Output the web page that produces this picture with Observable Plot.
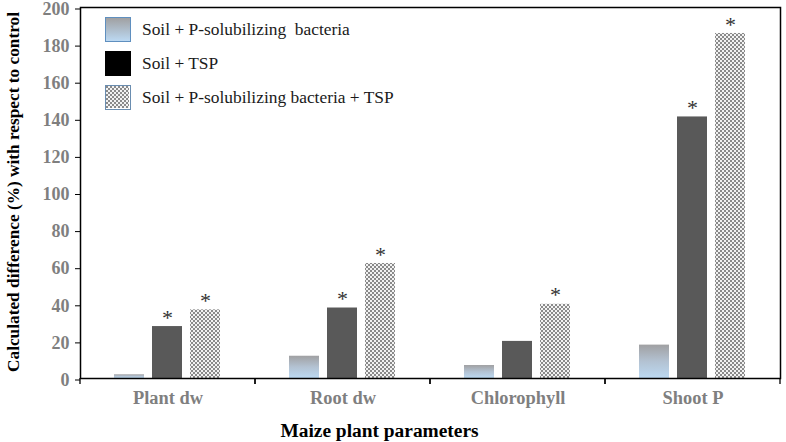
<!DOCTYPE html>
<html><head><meta charset="utf-8">
<script src="https://cdn.jsdelivr.net/npm/d3@7"></script>
<script src="https://cdn.jsdelivr.net/npm/@observablehq/plot@0.6"></script>
<style>
body{margin:0;background:#fff}
#wrap{position:relative;width:786px;height:442px;font-family:"Liberation Serif","Times New Roman",serif}
#legend{position:absolute;left:105px;top:17px}
.row{display:flex;align-items:center;height:25px;margin-bottom:9px}
.sw{width:26px;height:25px;box-sizing:border-box;margin-right:11px}
.lt{font-size:17.4px;color:#1a1a1a;white-space:pre;font-family:"Liberation Serif","Times New Roman",serif}
</style>
</head><body>
<svg width="0" height="0" style="position:absolute">
  <defs>
    <linearGradient id="gradPsb" x1="0" y1="0" x2="0" y2="1">
      <stop offset="0" stop-color="#a0a0a2"/>
      <stop offset="0.5" stop-color="#b3c2d2"/>
      <stop offset="1" stop-color="#bcd9f2"/>
    </linearGradient>
    <pattern id="checker" width="4" height="4" patternUnits="userSpaceOnUse">
      <rect width="4" height="4" fill="#f2f2f2"/>
      <rect width="2" height="2" fill="#8a8a8a"/>
      <rect x="2" y="2" width="2" height="2" fill="#8a8a8a"/>
    </pattern>
  </defs>
</svg>
<div id="wrap"></div>
<script>
const categories = ["Plant dw", "Root dw", "Chlorophyll", "Shoot P"];
const series = ["Soil + P-solubilizing  bacteria", "Soil + TSP", "Soil + P-solubilizing bacteria + TSP"];
const psbValues = [2, 12, 7, 18];
const tspValues = [28, 38, 20, 141];
const psbTspValues = [37, 62, 40, 186];
const psbSig = [false, false, false, false];
const tspSig = [true, true, false, true];
const psbTspSig = [true, true, true, true];
const yTicks = [0, 20, 40, 60, 80, 100, 120, 140, 160, 180, 200];
const xTitle = "Maize plant parameters";
const yTitle = "Calculated difference (%) with respect to control";
const seriesFills = ["url(#gradPsb)", "#595959", "url(#checker)"];

const valueSets = [psbValues, tspValues, psbTspValues];
const sigSets = [psbSig, tspSig, psbTspSig];
const rows = [];
categories.forEach((c, i) => series.forEach((s, j) => rows.push({category: c, series: s, value: valueSets[j][i], sig: sigSets[j][i]})));

const boundaryTicks = (index, scales, values, dims) => {
  const g = d3.create("svg:g").attr("stroke", "black").attr("stroke-width", 1.3);
  const y0 = dims.height - dims.marginBottom;
  for (const x of [dims.marginLeft, dims.width - dims.marginRight]) {
    g.append("line").attr("x1", x).attr("x2", x).attr("y1", y0).attr("y2", y0 + 6);
  }
  return g.node();
};

const serif = "'Liberation Serif', 'Times New Roman', serif";
const chart = Plot.plot({
  width: 786,
  height: 442,
  marginLeft: 79,
  marginRight: 6,
  marginTop: 7,
  marginBottom: 64,
  style: {fontFamily: serif, background: "white"},
  fx: {domain: categories, padding: 0, label: null, axis: null},
  x: {domain: series, paddingInner: 0.205, paddingOuter: 0.853, axis: null},
  y: {domain: [0, 200], label: null, axis: null},
  color: {domain: series, range: seriesFills},
  marks: [
    Plot.barY(rows, {fx: "category", x: "series", y: "value", fill: "series"}),
    Plot.text(rows.filter(d => d.sig), {fx: "category", x: "series", y: "value", text: () => "*", dy: -9, fontSize: 22, fill: "#333", textAnchor: "middle", fontFamily: serif}),
    Plot.axisY({ticks: yTicks, tickSize: 5, tickPadding: 6, fontSize: 18, fontWeight: "bold", fill: "#7f7f7f", stroke: "black", label: null, tickFormat: d => String(d), fontFamily: serif, dy: 1.5}),
    Plot.axisFx({anchor: "bottom", tickSize: 0, tickPadding: 12, fontSize: 18.4, fontWeight: "bold", fill: "#7f7f7f", label: null, fontFamily: serif}),
    boundaryTicks,
    Plot.frame({stroke: "black", strokeWidth: 1.5, facet: "super"}),
    Plot.text([yTitle], {text: d => d, frameAnchor: "left", textAnchor: "middle", rotate: -90, dx: -67, dy: -1, fontSize: 17.3, fontWeight: "bold", fill: "black", fontFamily: serif, facet: "super"}),
    Plot.text([xTitle], {text: d => d, frameAnchor: "bottom", textAnchor: "middle", dy: 58, dx: -51, fontSize: 19.4, fontWeight: "bold", fill: "black", fontFamily: serif, facet: "super"})
  ]
});
const wrap = document.getElementById("wrap");
wrap.appendChild(chart);

const legend = document.createElement("div");
legend.id = "legend";
const swStyles = [
  "background:linear-gradient(#a0a0a2,#bcd9f2);border:1.5px solid #5f8fbf",
  "background:#000",
  "border:1.5px solid #6a8db0"
];
series.forEach((s, j) => {
  const row = document.createElement("div");
  row.className = "row";
  const sw = document.createElement("div");
  sw.className = "sw";
  sw.style.cssText = swStyles[j];
  if (j === 2) {
    sw.innerHTML = '<svg width="23" height="22" style="display:block"><rect width="23" height="22" fill="url(#checker)"/></svg>';
  }
  const t = document.createElement("span");
  t.className = "lt";
  t.textContent = s;
  row.appendChild(sw);
  row.appendChild(t);
  legend.appendChild(row);
});
wrap.appendChild(legend);
</script>
</body></html>
